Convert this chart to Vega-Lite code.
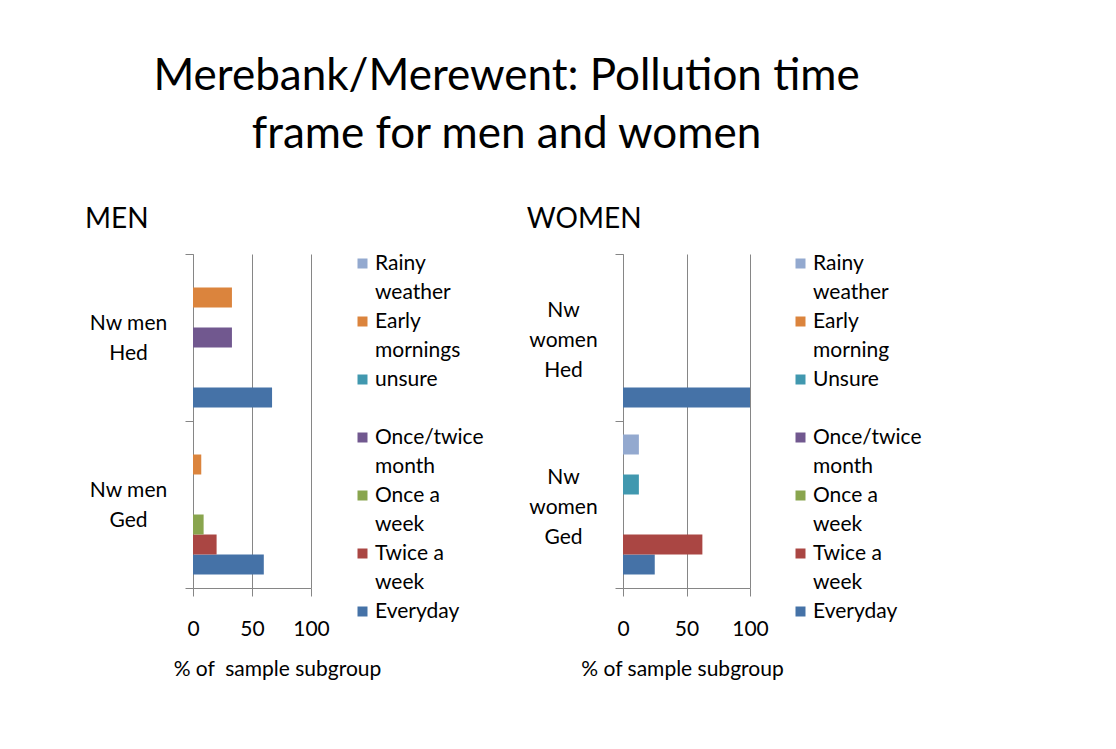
{
  "$schema": "https://vega.github.io/schema/vega-lite/v6.json",
  "background": "white",
  "padding": {"left": 85, "top": 55, "right": 5, "bottom": 5},
  "title": {
    "text": ["Merebank/Merewent: Pollution time", "frame for men and women"],
    "font": "Lato", "fontSize": 44, "fontWeight": "normal", "color": "black",
    "lineHeight": 58, "anchor": "middle", "offset": 49, "dx": 3
  },
  "spacing": 42,
  "hconcat": [
    {
      "title": {"text": "MEN", "anchor": "start", "font": "Lato", "fontSize": 28, "fontWeight": "normal", "color": "black", "offset": 9, "dx": -4},
      "width": 118,
      "height": 334,
      "data": {"values": [
        {"group": "Nw men|Hed", "series": "Everyday", "pct": 67},
        {"group": "Nw men|Hed", "series": "Once/twice month", "pct": 33},
        {"group": "Nw men|Hed", "series": "Early mornings", "pct": 33},
        {"group": "Nw men|Ged", "series": "Everyday", "pct": 60},
        {"group": "Nw men|Ged", "series": "Twice a week", "pct": 20},
        {"group": "Nw men|Ged", "series": "Once a week", "pct": 9},
        {"group": "Nw men|Ged", "series": "Early mornings", "pct": 7}
      ]},
      "mark": {"type": "bar"},
      "encoding": {
        "y": {"field": "group", "type": "nominal",
          "scale": {"domain": ["Nw men|Hed", "Nw men|Ged"], "paddingInner": 0, "paddingOuter": 0},
          "axis": {"title": null, "labelExpr": "split(datum.label, '|')", "tickBand": "extent", "tickSize": 8,
            "tickColor": "#868686", "domainColor": "#868686", "labelAlign": "center", "labelBaseline": "middle", "labelPadding": 57,
            "labelOffset": -14,
            "labelFontSize": 21, "labelLineHeight": 30, "labelFont": "Lato", "labelColor": "black", "grid": false}},
        "yOffset": {"field": "series", "type": "nominal",
          "scale": {"domain": ["Rainy weather", "Early mornings", "unsure", "Once/twice month", "Once a week", "Twice a week", "Everyday"], "paddingInner": 0, "paddingOuter": 0.675}},
        "x": {"field": "pct", "type": "quantitative",
          "scale": {"domain": [0, 100], "nice": false},
          "axis": {"values": [0, 50, 100], "grid": true, "gridColor": "#868686", "tickSize": 8, "tickColor": "#868686",
            "domainColor": "#868686", "labelFontSize": 21, "labelFont": "Lato", "labelColor": "black", "labelPadding": 22,
            "labelFlush": false,
            "title": "% of\u00a0 sample subgroup", "titleFont": "Lato", "titleFontSize": 21, "titleFontWeight": "normal",
            "titleColor": "black", "titlePadding": 19, "titleX": 84, "titleAlign": "center"}},
        "color": {"field": "series", "type": "nominal",
          "scale": {"domain": ["Rainy weather", "Early mornings", "unsure", " ", "Once/twice month", "Once a week", "Twice a week", "Everyday"],
            "range": ["#93A9CF", "#DB843D", "#4198AF", "#ffffff", "#71588F", "#89A54E", "#AA4643", "#4572A7"]},
          "legend": {"orient": "none", "legendX": 159, "legendY": -1, "title": null, "symbolType": "square", "symbolSize": 100,
            "symbolStrokeWidth": 0, "labelFontSize": 21, "labelFont": "Lato", "labelColor": "black",
            "labelExpr": "lastindexof(datum.label, ' ') > 0 ? [substring(datum.label, 0, lastindexof(datum.label, ' ')), substring(datum.label, lastindexof(datum.label, ' ') + 1)] : datum.label",
            "rowPadding": 7, "labelOffset": 2,
            "encode": {"labels": {"update": {"lineHeight": {"value": 29}}}}}}
      }
    },
    {
      "title": {"text": "WOMEN", "anchor": "start", "font": "Lato", "fontSize": 28, "fontWeight": "normal", "color": "black", "offset": 9, "dx": -2},
      "width": 127,
      "height": 334,
      "data": {"values": [
        {"group": "Nw|women|Hed", "series": "Everyday", "pct": 100},
        {"group": "Nw|women|Ged", "series": "Everyday", "pct": 25},
        {"group": "Nw|women|Ged", "series": "Twice a week", "pct": 62.5},
        {"group": "Nw|women|Ged", "series": "Unsure", "pct": 12.5},
        {"group": "Nw|women|Ged", "series": "Rainy weather", "pct": 12.5}
      ]},
      "mark": {"type": "bar"},
      "encoding": {
        "y": {"field": "group", "type": "nominal",
          "scale": {"domain": ["Nw|women|Hed", "Nw|women|Ged"], "paddingInner": 0, "paddingOuter": 0},
          "axis": {"title": null, "labelExpr": "split(datum.label, '|')", "tickBand": "extent", "tickSize": 8,
            "tickColor": "#868686", "domainColor": "#868686", "labelAlign": "center", "labelBaseline": "middle", "labelPadding": 52,
            "labelOffset": -27,
            "labelFontSize": 21, "labelLineHeight": 30, "labelFont": "Lato", "labelColor": "black", "grid": false}},
        "yOffset": {"field": "series", "type": "nominal",
          "scale": {"domain": ["Rainy weather", "Early morning", "Unsure", "Once/twice month", "Once a week", "Twice a week", "Everyday"], "paddingInner": 0, "paddingOuter": 0.675}},
        "x": {"field": "pct", "type": "quantitative",
          "scale": {"domain": [0, 100], "nice": false},
          "axis": {"values": [0, 50, 100], "grid": true, "gridColor": "#868686", "tickSize": 8, "tickColor": "#868686",
            "domainColor": "#868686", "labelFontSize": 21, "labelFont": "Lato", "labelColor": "black", "labelPadding": 22,
            "labelFlush": false,
            "title": "% of sample subgroup", "titleFont": "Lato", "titleFontSize": 21, "titleFontWeight": "normal",
            "titleColor": "black", "titlePadding": 19, "titleX": 59, "titleAlign": "center"}},
        "color": {"field": "series", "type": "nominal",
          "scale": {"domain": ["Rainy weather", "Early morning", "Unsure", " ", "Once/twice month", "Once a week", "Twice a week", "Everyday"],
            "range": ["#93A9CF", "#DB843D", "#4198AF", "#ffffff", "#71588F", "#89A54E", "#AA4643", "#4572A7"]},
          "legend": {"orient": "none", "legendX": 167, "legendY": -1, "title": null, "symbolType": "square", "symbolSize": 100,
            "symbolStrokeWidth": 0, "labelFontSize": 21, "labelFont": "Lato", "labelColor": "black",
            "labelExpr": "lastindexof(datum.label, ' ') > 0 ? [substring(datum.label, 0, lastindexof(datum.label, ' ')), substring(datum.label, lastindexof(datum.label, ' ') + 1)] : datum.label",
            "rowPadding": 7, "labelOffset": 2,
            "encode": {"labels": {"update": {"lineHeight": {"value": 29}}}}}}
      }
    }
  ],
  "resolve": {
    "scale": {"color": "independent", "y": "independent", "x": "independent", "yOffset": "independent"},
    "legend": {"color": "independent"}
  },
  "config": {
    "view": {"stroke": null},
    "font": "Lato"
  }
}
